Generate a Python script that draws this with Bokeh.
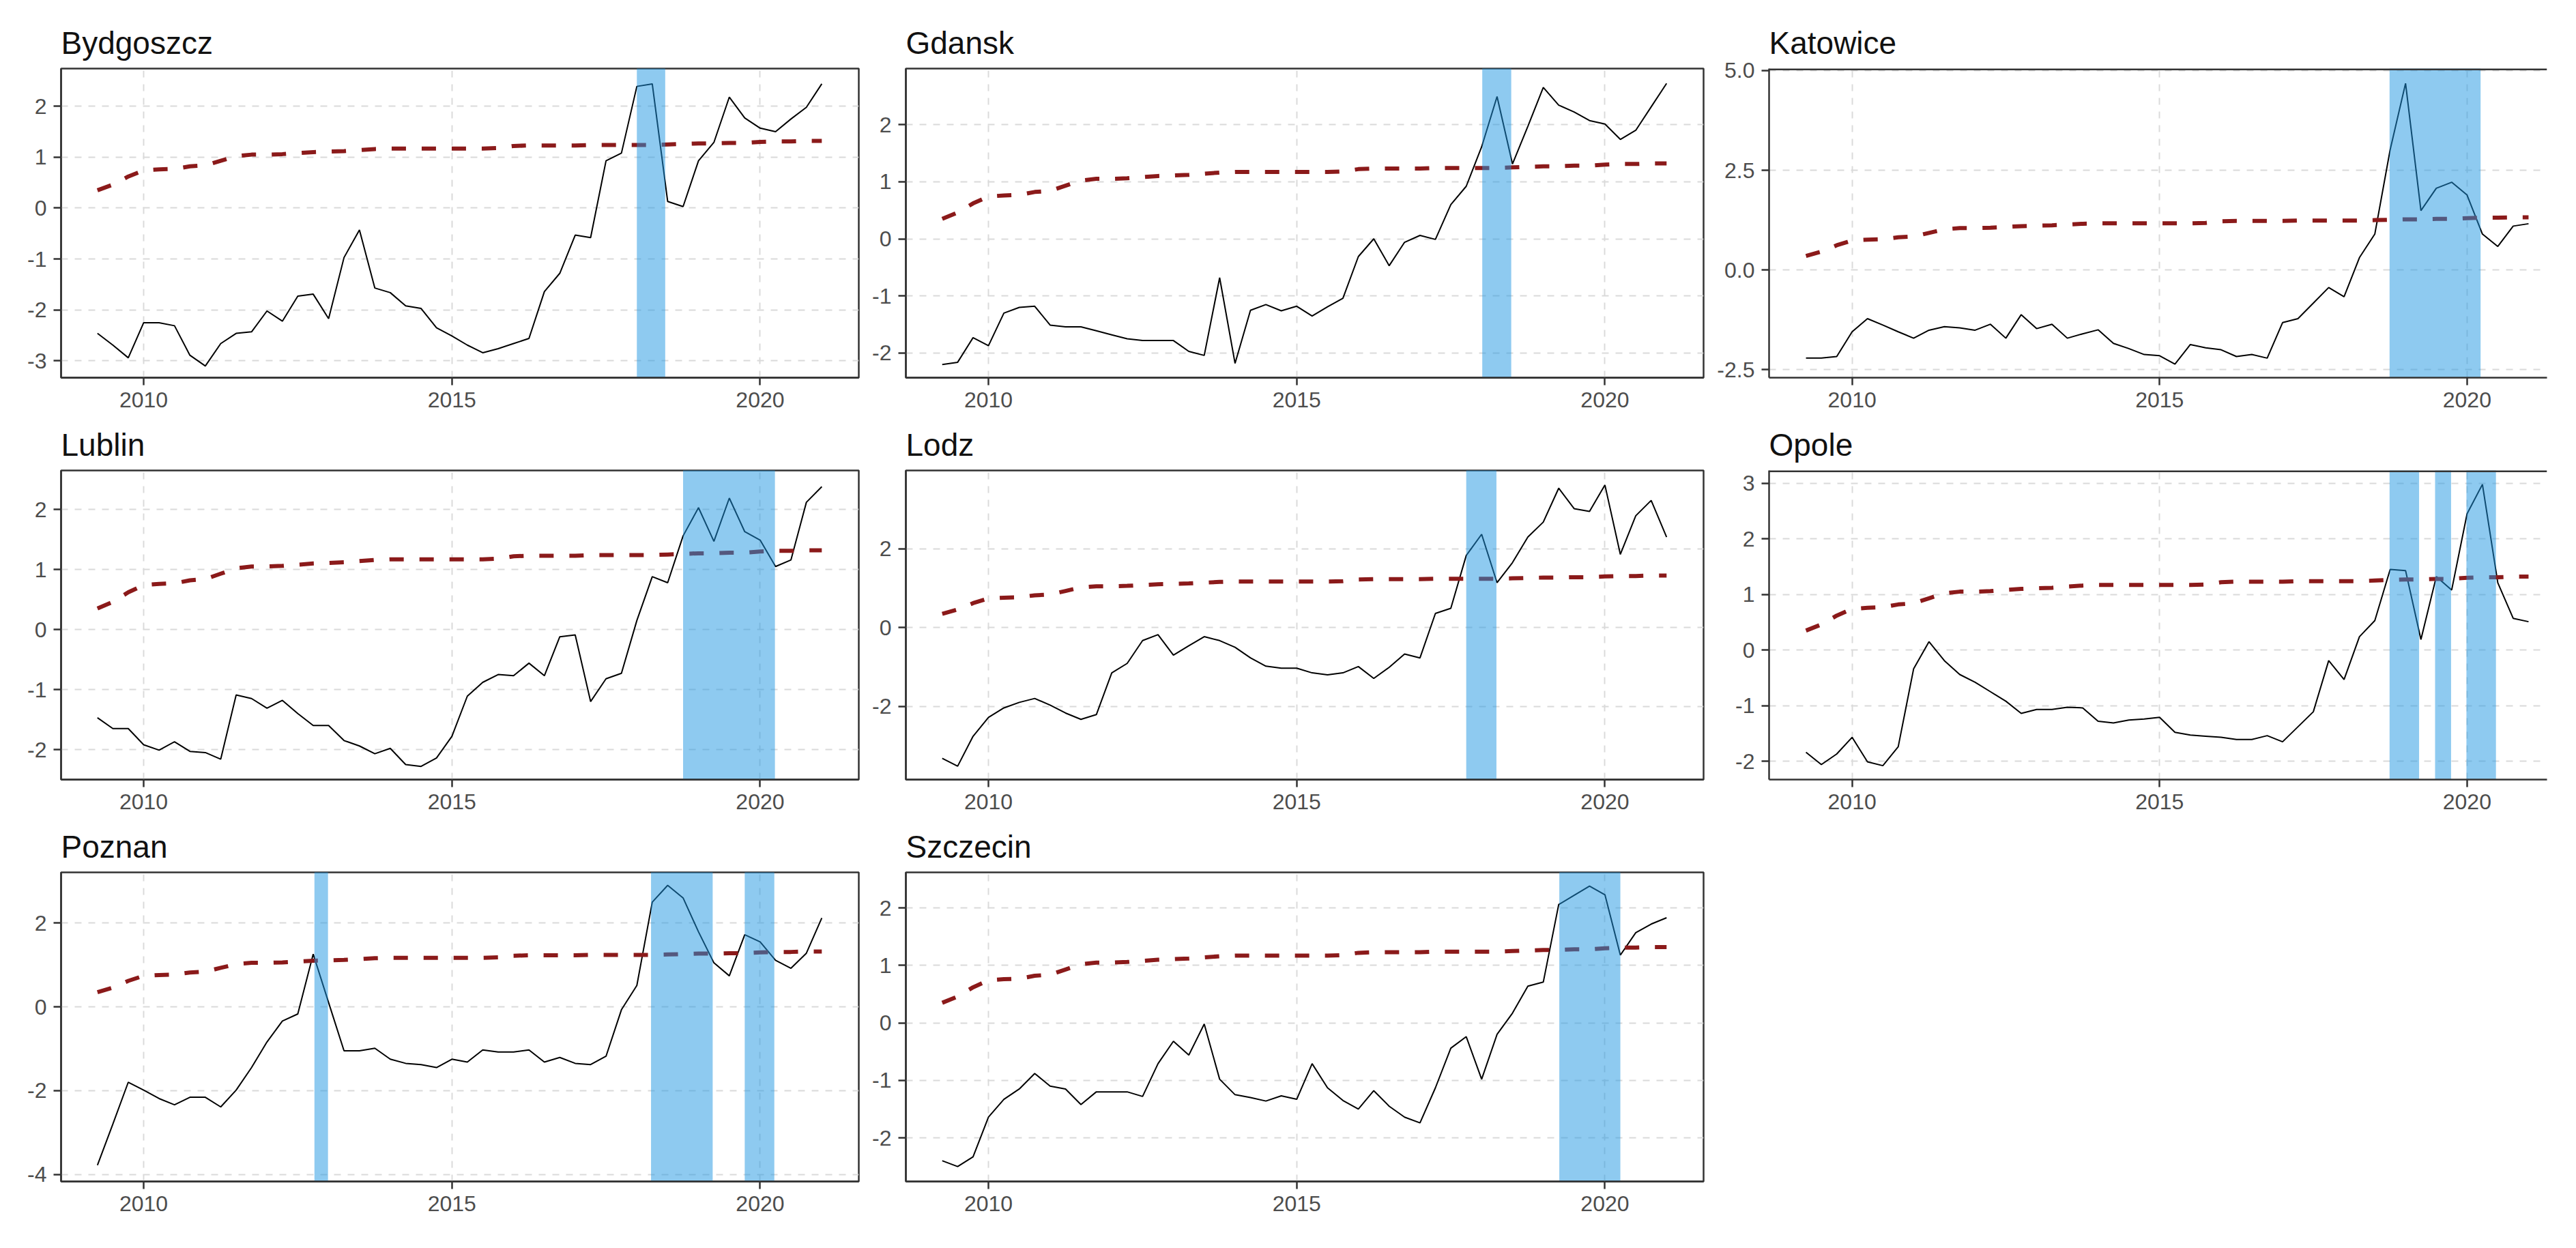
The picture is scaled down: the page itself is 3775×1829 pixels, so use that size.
import pandas as pd
from bokeh.plotting import figure
from bokeh.layouts import column, row
from bokeh.models import Range1d, FixedTicker, PrintfTickFormatter, Span
from bokeh.embed import file_html
from bokeh.resources import INLINE

# ---------------- data ----------------
dates = pd.date_range("2009-04-01", "2021-01-01", freq="QS")   # 2009Q2 .. 2021Q1
x_years = list(dates.year + (dates.month - 1) / 12.0)

critical_values = [0.35, 0.46, 0.62, 0.74, 0.76, 0.77, 0.82, 0.84, 0.93, 1.02, 1.05, 1.05,
                   1.06, 1.08, 1.10, 1.11, 1.12, 1.14, 1.16, 1.17, 1.17, 1.17, 1.17, 1.17,
                   1.17, 1.17, 1.18, 1.22, 1.23, 1.23, 1.23, 1.23, 1.24, 1.24, 1.24, 1.24,
                   1.24, 1.25, 1.26, 1.27, 1.27, 1.28, 1.28, 1.30, 1.31, 1.31, 1.32, 1.32]

bydgoszcz = [-2.46, -2.69, -2.94, -2.25, -2.25, -2.31, -2.89, -3.10, -2.66, -2.46, -2.43, -2.02,
             -2.22, -1.73, -1.69, -2.17, -0.97, -0.43, -1.57, -1.66, -1.92, -1.97, -2.35, -2.51,
             -2.69, -2.84, -2.76, -2.66, -2.56, -1.64, -1.28, -0.53, -0.58, 0.93, 1.08, 2.39,
             2.44, 0.13, 0.03, 0.93, 1.29, 2.18, 1.77, 1.57, 1.50, 1.75, 1.98, 2.44]
gdansk = [-2.20, -2.16, -1.73, -1.87, -1.30, -1.20, -1.18, -1.51, -1.54, -1.54, -1.61, -1.68,
          -1.75, -1.78, -1.78, -1.78, -1.97, -2.04, -0.68, -2.18, -1.25, -1.15, -1.26, -1.18,
          -1.35, -1.19, -1.04, -0.31, 0.00, -0.47, -0.06, 0.06, -0.01, 0.60, 0.92, 1.61,
          2.49, 1.31, 1.97, 2.65, 2.34, 2.22, 2.07, 2.01, 1.74, 1.90, 2.31, 2.72]
katowice = [-2.21, -2.21, -2.17, -1.55, -1.22, -1.38, -1.55, -1.71, -1.51, -1.42, -1.45, -1.51,
            -1.36, -1.71, -1.12, -1.47, -1.36, -1.71, -1.60, -1.50, -1.84, -1.97, -2.12, -2.15,
            -2.36, -1.87, -1.95, -2.00, -2.17, -2.12, -2.21, -1.32, -1.22, -0.83, -0.44, -0.67,
            0.31, 0.90, 3.02, 4.68, 1.49, 2.05, 2.20, 1.88, 0.90, 0.59, 1.10, 1.16]
lublin = [-1.47, -1.65, -1.65, -1.92, -2.01, -1.87, -2.03, -2.05, -2.16, -1.09, -1.15, -1.31,
          -1.18, -1.40, -1.60, -1.60, -1.85, -1.94, -2.07, -1.98, -2.25, -2.28, -2.14, -1.78,
          -1.11, -0.88, -0.75, -0.77, -0.56, -0.77, -0.12, -0.09, -1.20, -0.82, -0.73, 0.15,
          0.88, 0.78, 1.56, 2.03, 1.47, 2.19, 1.63, 1.49, 1.05, 1.16, 2.12, 2.38]
lodz = [-3.32, -3.52, -2.76, -2.28, -2.04, -1.90, -1.80, -1.97, -2.17, -2.33, -2.21, -1.15,
        -0.91, -0.33, -0.18, -0.70, -0.46, -0.23, -0.33, -0.50, -0.77, -0.98, -1.03, -1.03,
        -1.15, -1.20, -1.15, -0.99, -1.29, -1.01, -0.67, -0.77, 0.36, 0.49, 1.83, 2.37,
        1.14, 1.65, 2.30, 2.68, 3.54, 3.02, 2.95, 3.62, 1.86, 2.84, 3.23, 2.30]
opole = [-1.84, -2.06, -1.87, -1.57, -2.01, -2.08, -1.74, -0.34, 0.15, -0.19, -0.44, -0.58,
         -0.75, -0.92, -1.14, -1.07, -1.07, -1.03, -1.04, -1.28, -1.31, -1.26, -1.24, -1.21,
         -1.48, -1.53, -1.55, -1.57, -1.61, -1.61, -1.54, -1.65, -1.38, -1.11, -0.19, -0.53,
         0.24, 0.53, 1.45, 1.43, 0.19, 1.32, 1.08, 2.45, 2.98, 1.21, 0.57, 0.51]
poznan = [-3.78, -2.80, -1.80, -1.99, -2.19, -2.34, -2.16, -2.16, -2.39, -1.99, -1.45, -0.84,
          -0.34, -0.17, 1.26, 0.10, -1.05, -1.05, -0.99, -1.25, -1.35, -1.38, -1.45, -1.25,
          -1.32, -1.03, -1.08, -1.08, -1.03, -1.32, -1.21, -1.35, -1.38, -1.18, -0.07, 0.51,
          2.50, 2.90, 2.60, 1.79, 1.05, 0.74, 1.72, 1.55, 1.11, 0.92, 1.28, 2.12]
szczecin = [-2.40, -2.50, -2.33, -1.64, -1.33, -1.15, -0.88, -1.10, -1.15, -1.42, -1.20, -1.20,
            -1.20, -1.28, -0.71, -0.32, -0.56, -0.02, -0.98, -1.25, -1.30, -1.36, -1.27, -1.33,
            -0.71, -1.13, -1.35, -1.50, -1.18, -1.45, -1.64, -1.74, -1.13, -0.44, -0.24, -0.98,
            -0.20, 0.17, 0.64, 0.71, 2.06, 2.22, 2.38, 2.23, 1.18, 1.57, 1.72, 1.83]

# bubble periods (start, end) in decimal years
shade_bydgoszcz = [(2018.00, 2018.46)]
shade_gdansk = [(2018.01, 2018.48)]
shade_katowice = [(2018.74, 2020.22)]
shade_lublin = [(2018.75, 2020.24)]
shade_lodz = [(2017.75, 2018.24)]
shade_opole = [(2018.74, 2019.22), (2019.48, 2019.74), (2019.99, 2020.47)]
shade_poznan = [(2012.77, 2012.99), (2018.23, 2019.23), (2019.75, 2020.23)]
shade_szczecin = [(2019.26, 2020.25)]

x_tick_values = [2010, 2015, 2020]

panels = [
    ("Bydgoszcz", bydgoszcz, shade_bydgoszcz, (-3.33, 2.74), [-3, -2, -1, 0, 1, 2], "%d"),
    ("Gdansk", gdansk, shade_gdansk, (-2.43, 2.98), [-2, -1, 0, 1, 2], "%d"),
    ("Katowice", katowice, shade_katowice, (-2.70, 5.05), [-2.5, 0.0, 2.5, 5.0], "%.1f"),
    ("Lublin", lublin, shade_lublin, (-2.50, 2.65), [-2, -1, 0, 1, 2], "%d"),
    ("Lodz", lodz, shade_lodz, (-3.86, 3.99), [-2, 0, 2], "%d"),
    ("Opole", opole, shade_opole, (-2.33, 3.23), [-2, -1, 0, 1, 2, 3], "%d"),
    ("Poznan", poznan, shade_poznan, (-4.17, 3.21), [-4, -2, 0, 2], "%d"),
    ("Szczecin", szczecin, shade_szczecin, (-2.76, 2.62), [-2, -1, 0, 1, 2], "%d"),
]
for _n, _v, *_ in panels:
    assert len(_v) == len(x_years), _n
assert len(critical_values) == len(x_years)

# ---------------- layout / style ----------------
FONT = "Liberation Sans"
FRAME_H = 453
col_cfg = [  # frame width, left border, right border, x range, right border line
    (1169, 89, 9, (2008.66, 2021.60), True),
    (1169, 60, 16, (2008.66, 2021.60), True),
    (1140, 80, 10, (2008.65, 2021.30), False),
]
row_cfg = [(100, 58), (78, 58), (78, 62)]  # top border, bottom border
BORDER = "#333333"


def make_panel(idx, name, values, shades, yr, yticks, yfmt):
    r, c = divmod(idx, 3)
    fw, lb, rb, xr, right_line = col_cfg[c]
    tb, bb = row_cfg[r]
    p = figure(width=lb + fw + rb, height=tb + FRAME_H + bb,
               min_border_left=lb, min_border_right=rb,
               min_border_top=tb, min_border_bottom=bb,
               x_range=Range1d(*xr), y_range=Range1d(*yr),
               output_backend="svg", toolbar_location=None,
               background_fill_color="white", border_fill_color="white")
    p.title.text = name
    p.title.text_font = FONT
    p.title.text_font_size = "46px"
    p.title.text_font_style = "normal"
    p.title.text_color = "#111111"
    p.title.align = "left"
    p.title.standoff = 24

    xax = p.below[0]
    yax = p.left[0]
    xax.ticker = FixedTicker(ticks=x_tick_values)
    xax.formatter = PrintfTickFormatter(format="%d")
    yax.ticker = FixedTicker(ticks=yticks)
    yax.formatter = PrintfTickFormatter(format=yfmt)
    for ax in (xax, yax):
        ax.axis_line_color = BORDER
        ax.axis_line_width = 2.5
        ax.major_tick_line_color = BORDER
        ax.major_tick_line_width = 2.5
        ax.major_tick_out = 11
        ax.major_tick_in = 0
        ax.minor_tick_line_color = None
        ax.major_label_text_font = FONT
        ax.major_label_text_font_size = "32px"
        ax.major_label_text_color = "#4D4D4D"
    xax.major_label_standoff = 10
    yax.major_label_standoff = 10

    # grid
    p.xgrid.ticker = FixedTicker(ticks=x_tick_values)
    p.ygrid.ticker = FixedTicker(ticks=yticks)
    for g in (p.xgrid[0], p.ygrid[0]):
        g.grid_line_color = "#DADADA"
        g.grid_line_width = 2
        g.grid_line_dash = "10 10"

    # series
    p.line(x_years, values, line_color="black", line_width=2)
    p.line(x_years, critical_values, line_color="#8B1A1A", line_width=6,
           line_dash="21 23", line_cap="butt")
    if shades:
        p.quad(left=[s[0] for s in shades], right=[s[1] for s in shades],
               bottom=[yr[0] - 100] * len(shades), top=[yr[1] + 100] * len(shades),
               fill_color="#1D95E1", fill_alpha=0.5, line_color=None)

    # panel border
    if right_line:
        p.outline_line_color = BORDER
        p.outline_line_width = 2.5
        p.outline_line_alpha = 1.0
    else:
        p.outline_line_color = None
        p.add_layout(Span(location=yr[1], dimension="width",
                          line_color=BORDER, line_width=5))
    return p


figs = [make_panel(i, *pan) for i, pan in enumerate(panels)]
layout = column(row(*figs[0:3]), row(*figs[3:6]), row(*figs[6:8]))

open("out.html", "w").write(file_html(layout, INLINE))
